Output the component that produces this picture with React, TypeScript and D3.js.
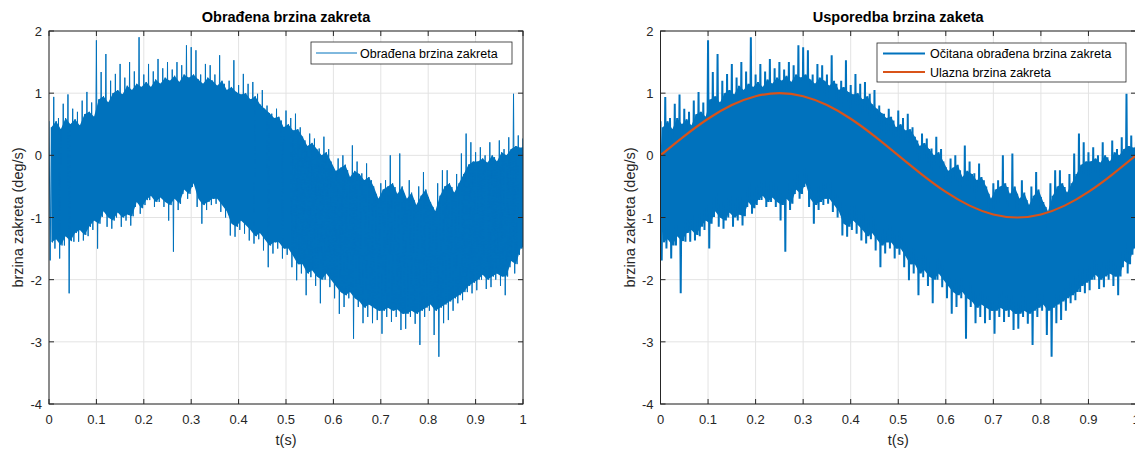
import React from 'react';
import * as d3 from 'd3';

// ---- data ----
const sampleStep = 0.01;
// spike tops of the measured (processed) rate, one per 0.01 s bin
const upperEnvelope = [
  0.55, 0.94, 0.6, 0.83, 0.98, 0.75, 0.7, 0.88, 1.02, 0.85,
  1.85, 1.34, 1.63, 1.2, 1.31, 1.47, 1.25, 1.5, 1.35, 1.9,
  1.3, 1.47, 1.35, 1.55, 1.4, 1.5, 1.38, 1.5, 1.45, 1.77,
  1.74, 1.69, 1.3, 1.47, 1.45, 1.3, 1.61, 1.15, 1.2, 1.53,
  1.13, 1.31, 1.15, 1.18, 0.99, 1.05, 0.8, 0.67, 0.75, 0.56,
  0.72, 0.6, 0.67, 0.45, 0.24, 0.35, 0.27, 0.11, 0.3, 0.1,
  -0.19, -0.05, 0.0, -0.24, 0.16, -0.1, -0.29, -0.13, -0.4, -0.62,
  -0.45, -0.4, 0.0, -0.51, 0.03, -0.62, -0.4, -0.72, -0.5, -0.27,
  -0.67, -0.83, -0.45, -0.24, -0.24, -0.51, -0.3, 0.03, 0.35, 0.21,
  0.05, 0.13, 0.0, 0.21, -0.03, 0.24, 0.1, 0.29, 0.99, 0.32,
  0.27,
];
// spike bottoms, one per 0.01 s bin
const lowerEnvelope = [
  -1.69, -1.5, -1.66, -1.45, -2.22, -1.39, -1.39, -1.37, -1.3, -1.2,
  -1.5, -0.99, -1.15, -1.18, -1.0, -1.15, -1.05, -1.13, -0.83, -0.94,
  -0.8, -0.72, -0.83, -0.75, -0.83, -1.05, -1.55, -0.88, -0.62, -0.7,
  -0.51, -0.83, -1.1, -0.88, -0.8, -0.78, -0.91, -1.0, -1.29, -1.31,
  -1.2, -1.26, -1.37, -1.42, -1.35, -1.53, -1.8, -1.58, -1.5, -1.66,
  -1.6, -1.8, -2.01, -1.9, -2.25, -1.96, -2.1, -2.38, -2.0, -2.12,
  -2.3, -2.55, -2.44, -2.3, -2.95, -2.44, -2.7, -2.6, -2.7, -2.65,
  -2.87, -2.6, -2.68, -2.6, -2.81, -2.79, -2.6, -2.71, -3.05, -2.6,
  -2.5, -2.89, -3.24, -2.7, -2.65, -2.5, -2.38, -2.33, -2.2, -2.22,
  -2.17, -2.0, -2.15, -2.12, -2.0, -2.1, -2.25, -1.8, -1.9, -1.6,
  -1.53,
];
// top edge of the dense part of the band, one per 0.01 s bin
const denseTop = [
  0.45, 0.55, 0.42, 0.6, 0.5, 0.58, 0.48, 0.66, 0.7, 0.62,
  0.9, 0.95, 0.85, 1.0, 1.05, 0.98, 1.12, 1.05, 1.15, 1.1,
  1.18, 1.1, 1.22, 1.15, 1.25, 1.2, 1.28, 1.18, 1.3, 1.25,
  1.3, 1.22, 1.15, 1.25, 1.2, 1.12, 1.2, 1.05, 1.1, 1.02,
  0.98, 1.0, 0.9, 0.95, 0.82, 0.75, 0.68, 0.6, 0.62, 0.45,
  0.5, 0.4, 0.42, 0.3, 0.15, 0.2, 0.1, 0.0, 0.05, -0.1,
  -0.25, -0.2, -0.15, -0.35, -0.25, -0.3, -0.4, -0.35, -0.5, -0.7,
  -0.55, -0.5, -0.45, -0.62, -0.5, -0.7, -0.6, -0.8, -0.65, -0.55,
  -0.75, -0.9, -0.65, -0.5, -0.45, -0.6, -0.45, -0.3, -0.15, -0.1,
  -0.1, -0.05, -0.12, 0.0, -0.1, 0.05, 0.0, 0.1, 0.15, 0.12,
  0.15,
];
// bottom edge of the dense part of the band, one per 0.01 s bin
const denseBottom = [
  -1.4, -1.35, -1.45, -1.3, -1.38, -1.25, -1.2, -1.28, -1.15, -1.05,
  -1.1, -0.9, -1.0, -1.05, -0.92, -1.0, -0.95, -0.98, -0.75, -0.85,
  -0.72, -0.65, -0.75, -0.68, -0.75, -0.8, -0.7, -0.78, -0.55, -0.62,
  -0.45, -0.7, -0.8, -0.75, -0.7, -0.7, -0.8, -0.9, -1.1, -1.15,
  -1.05, -1.12, -1.2, -1.3, -1.25, -1.35, -1.45, -1.4, -1.4, -1.5,
  -1.5, -1.62, -1.75, -1.75, -1.9, -1.85, -1.95, -2.0, -1.9, -2.0,
  -2.1, -2.2, -2.25, -2.2, -2.3, -2.35, -2.45, -2.4, -2.45, -2.5,
  -2.5, -2.45, -2.5, -2.48, -2.55, -2.55, -2.5, -2.55, -2.5, -2.45,
  -2.4, -2.5, -2.45, -2.4, -2.35, -2.3, -2.25, -2.2, -2.1, -2.05,
  -2.0, -1.92, -2.0, -1.95, -1.9, -1.95, -1.95, -1.7, -1.75, -1.5,
  -1.45,
];
// input rate (reference), every 0.05 s
const inputStep = 0.05;
const inputRate = [
  0, 0.309, 0.588, 0.809, 0.951, 1, 0.951, 0.809, 0.588, 0.309,
  0, -0.309, -0.588, -0.809, -0.951, -1, -0.951, -0.809, -0.588, -0.309,
  0,
];
const xTicks = [0, 0.1, 0.2, 0.3, 0.4, 0.5, 0.6, 0.7, 0.8, 0.9, 1];
const xTickLabels = ['0', '0.1', '0.2', '0.3', '0.4', '0.5', '0.6', '0.7', '0.8', '0.9', '1'];
const yTicks = [-4, -3, -2, -1, 0, 1, 2];
const yTickLabels = ['-4', '-3', '-2', '-1', '0', '1', '2'];

const BLUE = '#0072BD';
const ORANGE = '#D95319';
const AXIS = '#262626';
const GRID = '#e3e3e3';
const FONT = '"Liberation Sans", Arial, Helvetica, sans-serif';

type Legend = { label: string; color: string; width: number }[];

function Panel(props: {
  id: string;
  left: number;
  right: number;
  title: string;
  lineWidth: number;
  showInput: boolean;
  legend: Legend;
  legendBox: { x: number; y: number; w: number; h: number; lineX0: number; lineX1: number; textX: number; rowY: number[] };
}) {
  const { id, left, right, title, lineWidth, showInput, legend, legendBox } = props;
  const top = 31;
  const bottom = 404;
  const x = d3.scaleLinear().domain([0, 1]).range([left, right]);
  const y = d3.scaleLinear().domain([-4, 2]).range([bottom, top]);

  const samples: [number, number][] = [];
  upperEnvelope.forEach((u, i) => {
    const t = i * sampleStep;
    samples.push([t, u]);
    samples.push([t + sampleStep * 0.25, lowerEnvelope[i]]);
    samples.push([t + sampleStep * 0.5, denseTop[i]]);
    samples.push([t + sampleStep * 0.75, denseBottom[i]]);
  });
  const linePath = d3.line<[number, number]>().x(d => x(d[0])).y(d => y(d[1]))(samples) || '';
  const densePath = d3
    .area<number>()
    .x((_, i) => x(i * sampleStep + sampleStep * 0.5))
    .y0((_, i) => y(denseBottom[i]))
    .y1(d => y(d))(denseTop) || '';
  const inputPath = d3
    .line<number>()
    .x((_, i) => x(i * inputStep))
    .y(d => y(d))
    .curve(d3.curveNatural)(inputRate) || '';

  const tickLen = 5;
  return (
    <g>
      <defs>
        <clipPath id={id}>
          <rect x={left} y={top} width={right - left} height={bottom - top} />
        </clipPath>
      </defs>
      <rect x={left} y={top} width={right - left} height={bottom - top} fill="#fff" />
      {xTicks.map(t => (
        <line key={'gx' + t} x1={x(t)} x2={x(t)} y1={top} y2={bottom} stroke={GRID} strokeWidth={1} />
      ))}
      {yTicks.map(t => (
        <line key={'gy' + t} x1={left} x2={right} y1={y(t)} y2={y(t)} stroke={GRID} strokeWidth={1} />
      ))}
      <g clipPath={`url(#${id})`}>
        <path d={densePath} fill={BLUE} />
        <path d={linePath} fill="none" stroke={BLUE} strokeWidth={lineWidth} strokeLinejoin="miter" strokeMiterlimit={2} />
        {showInput && <path d={inputPath} fill="none" stroke={ORANGE} strokeWidth={2.2} />}
      </g>
      <rect x={left} y={top} width={right - left} height={bottom - top} fill="none" stroke={AXIS} strokeWidth={1} />
      {xTicks.map(t => (
        <g key={'tx' + t}>
          <line x1={x(t)} x2={x(t)} y1={bottom} y2={bottom - tickLen} stroke={AXIS} />
          <line x1={x(t)} x2={x(t)} y1={top} y2={top + tickLen} stroke={AXIS} />
        </g>
      ))}
      {yTicks.map(t => (
        <g key={'ty' + t}>
          <line x1={left} x2={left + tickLen} y1={y(t)} y2={y(t)} stroke={AXIS} />
          <line x1={right} x2={right - tickLen} y1={y(t)} y2={y(t)} stroke={AXIS} />
        </g>
      ))}
      {xTicks.map((t, i) => (
        <text key={'lx' + t} x={x(t)} y={bottom + 20} textAnchor="middle" fontSize={13} fill={AXIS} fontFamily={FONT}>
          {xTickLabels[i]}
        </text>
      ))}
      {yTicks.map((t, i) => (
        <text key={'ly' + t} x={left - 7} y={y(t) + 5} textAnchor="end" fontSize={13} fill={AXIS} fontFamily={FONT}>
          {yTickLabels[i]}
        </text>
      ))}
      <text x={(left + right) / 2} y={bottom + 41} textAnchor="middle" fontSize={14.5} fill={AXIS} fontFamily={FONT}>
        t(s)
      </text>
      <text
        transform={`translate(${left - 26},${(top + bottom) / 2}) rotate(-90)`}
        textAnchor="middle"
        fontSize={14.5}
        fill={AXIS}
        fontFamily={FONT}
      >
        brzina zakreta (deg/s)
      </text>
      <text x={(left + right) / 2} y={top - 9} textAnchor="middle" fontSize={14.5} fontWeight="bold" fill="#000" fontFamily={FONT}>
        {title}
      </text>
      <rect x={legendBox.x} y={legendBox.y} width={legendBox.w} height={legendBox.h} fill="#fff" stroke={AXIS} strokeWidth={0.8} />
      {legend.map((e, i) => (
        <g key={e.label}>
          <line x1={legendBox.lineX0} x2={legendBox.lineX1} y1={legendBox.rowY[i]} y2={legendBox.rowY[i]} stroke={e.color} strokeWidth={e.width} />
          <text x={legendBox.textX} y={legendBox.rowY[i] + 4.5} fontSize={12.5} fill="#000" fontFamily={FONT}>
            {e.label}
          </text>
        </g>
      ))}
    </g>
  );
}

export default function App() {
  return (
    <svg width={1135} height={451} style={{ position: 'absolute', left: 0, top: 0, background: '#fff' }}>
      <rect width={1135} height={451} fill="#fff" />
      <Panel
        id="clipL"
        left={49}
        right={523}
        title="Obrađena brzina zakreta"
        lineWidth={1}
        showInput={false}
        legend={[{ label: 'Obrađena brzina zakreta', color: BLUE, width: 1 }]}
        legendBox={{ x: 311, y: 42, w: 201, h: 22, lineX0: 316, lineX1: 357, textX: 360, rowY: [53] }}
      />
      <Panel
        id="clipR"
        left={660.5}
        right={1136}
        title="Usporedba brzina zaketa"
        lineWidth={2}
        showInput={true}
        legend={[
          { label: 'Očitana obrađena brzina zakreta', color: BLUE, width: 2.2 },
          { label: 'Ulazna brzina zakreta', color: ORANGE, width: 2.2 },
        ]}
        legendBox={{ x: 877, y: 43, w: 249, h: 39, lineX0: 883, lineX1: 925, textX: 930, rowY: [53.5, 72] }}
      />
    </svg>
  );
}
